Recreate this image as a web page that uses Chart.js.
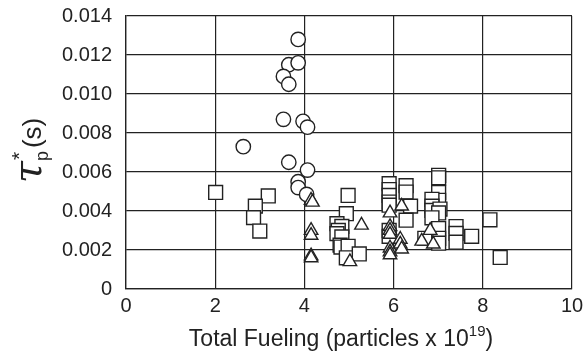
<!DOCTYPE html>
<html>
<head>
<meta charset="utf-8">
<script src="https://cdn.jsdelivr.net/npm/chart.js@4.4.0/dist/chart.umd.min.js"></script>
<style>
  body { margin: 0; background: #fff; }
  #wrap { width: 584px; height: 358px; position: relative; }
</style>
</head>
<body>
<div id="wrap"><canvas id="grafico"></canvas></div>
<script>
// total fueling (1e19 particles) vs tau_p* (s)
var circulos = [
    [3.86, 0.0128], [3.65, 0.0115], [3.86, 0.0116], [3.53, 0.0109], [3.65, 0.0105],
    [3.53, 0.0087], [3.97, 0.0086], [4.07, 0.0083], [2.63, 0.0073], [3.65, 0.0065],
    [4.07, 0.0061], [3.86, 0.0055], [3.86, 0.0052], [4.05, 0.00485]
];
var quadrados = [
    [2.01, 0.00495], [3.19, 0.00477], [2.90, 0.00425], [2.86, 0.00366], [3.00, 0.00297],
    [4.98, 0.0048], [4.94, 0.00386], [4.73, 0.00335], [4.84, 0.00321], [4.76, 0.0030],
    [4.73, 0.00284], [4.84, 0.00267], [4.80, 0.00225], [4.82, 0.00215], [4.98, 0.00219],
    [4.94, 0.0016], [5.23, 0.0018],
    [5.90, 0.0054], [5.90, 0.0051], [5.90, 0.0048], [5.90, 0.00446], [5.90, 0.0043],
    [5.90, 0.0030], [5.90, 0.0027],
    [6.28, 0.0053], [6.28, 0.00497], [6.38, 0.00425], [6.28, 0.00353],
    [7.01, 0.00583], [7.01, 0.0057], [7.01, 0.00495], [7.01, 0.00455], [6.86, 0.0046],
    [6.86, 0.00425], [6.86, 0.00403], [7.04, 0.0041], [7.01, 0.0039], [6.86, 0.00365],
    [7.01, 0.0031], [7.01, 0.0026], [7.01, 0.00235], [6.70, 0.0026],
    [7.40, 0.0032], [7.40, 0.00285], [7.40, 0.0024], [7.75, 0.0027], [8.16, 0.00355],
    [8.39, 0.00162]
];
var triangulos = [
    [4.15, 0.00455], [4.18, 0.00445], [4.15, 0.0030], [4.15, 0.00275], [4.15, 0.0017],
    [4.15, 0.0016], [5.02, 0.0014], [5.28, 0.00327], [5.92, 0.0039], [5.92, 0.0032],
    [5.92, 0.0030], [5.92, 0.0028], [5.92, 0.0021], [5.92, 0.0019], [5.92, 0.00175],
    [6.18, 0.00425], [6.15, 0.00255], [6.15, 0.0023], [6.18, 0.00205], [6.63, 0.00245],
    [6.82, 0.0030], [6.89, 0.0023]
];
var xTicks = [0, 2, 4, 6, 8, 10];
var yTicks = [0, 0.002, 0.004, 0.006, 0.008, 0.010, 0.012, 0.014];

var tinta = '#222';
var fonte = '"Liberation Sans", Arial, sans-serif';

function pontos(lista) {
    return lista.map(p => ({ x: p[0], y: p[1] }));
}

// axis titles with sub/superscripts drawn by hand
var titulos = {
    id: 'titulos',
    afterDraw: function (chart) {
        var ctx = chart.ctx;
        var area = chart.chartArea;
        ctx.save();
        ctx.fillStyle = tinta;
        ctx.textBaseline = 'alphabetic';

        // x title
        var base = '23px ' + fonte;
        var sup = '15px ' + fonte;
        var t1 = 'Total Fueling (particles x 10', t2 = '19', t3 = ')';
        ctx.font = base; var w1 = ctx.measureText(t1).width, w3 = ctx.measureText(t3).width;
        ctx.font = sup; var w2 = ctx.measureText(t2).width;
        var x0 = (area.left + area.right) / 2 - (w1 + w2 + w3) / 2 - 8;
        var yb = 346;
        ctx.textAlign = 'left';
        ctx.font = base; ctx.fillText(t1, x0, yb);
        ctx.font = sup; ctx.fillText(t2, x0 + w1, yb - 10);
        ctx.font = base; ctx.fillText(t3, x0 + w1 + w2, yb);

        // y title, rotated
        ctx.translate(41, 152);
        ctx.rotate(-Math.PI / 2);
        var tau = 'italic 40px "DejaVu Serif", serif';
        var pieces = [
            { s: '\u03C4', f: tau, dy: 0 },
            { s: 'p', f: '18px ' + fonte, dy: 7 },
            { s: '(s)', f: '26px ' + fonte, dy: 0 }
        ];
        var total = 0;
        pieces.forEach(p => { ctx.font = p.f; p.w = ctx.measureText(p.s).width; total += p.w; });
        var cx = -total / 2;
        pieces.forEach((p, i) => {
            ctx.font = p.f;
            ctx.fillText(p.s, cx, p.dy);
            if (i === 1) {
                ctx.font = '21px ' + fonte;
                ctx.fillText('*', cx + 1, -15);
            }
            cx += p.w + (i === 1 ? 3 : 0);
        });
        ctx.restore();
    }
};

var estilo = {
    backgroundColor: '#fff',
    borderColor: tinta,
    borderWidth: 1.4,
    hoverRadius: 7
};

var ctx = document.getElementById('grafico').getContext('2d');
var myChart = new Chart(ctx, {
    type: 'scatter',
    data: {
        datasets: [
            Object.assign({ label: 'triangles', data: pontos(triangulos), pointStyle: 'triangle', pointRadius: 7.8 }, estilo),
            Object.assign({ label: 'circles', data: pontos(circulos), pointStyle: 'circle', pointRadius: 7.2 }, estilo),
            Object.assign({ label: 'squares', data: pontos(quadrados), pointStyle: 'rect', pointRadius: 9.8 }, estilo)
        ]
    },
    options: {
        responsive: true,
        maintainAspectRatio: false,
        animation: false,
        layout: { padding: { left: 0, top: 16, right: 12, bottom: 0 } },
        scales: {
            x: {
                type: 'linear',
                min: 0,
                max: 10,
                afterBuildTicks: function (scale) {
                    scale.ticks = xTicks.map(v => ({ value: v }));
                },
                afterFit: function (scale) {
                    scale.height = 69;
                    scale.paddingLeft = 0;
                    scale.paddingRight = 0;
                },
                ticks: {
                    font: { family: fonte, size: 20 },
                    color: tinta,
                    padding: 5,
                    maxRotation: 0
                },
                grid: { color: tinta, lineWidth: 1.2, drawTicks: false },
                border: { color: tinta, width: 1.3 }
            },
            y: {
                type: 'linear',
                min: 0,
                max: 0.014,
                afterBuildTicks: function (scale) {
                    scale.ticks = yTicks.map(v => ({ value: v }));
                },
                afterFit: function (scale) {
                    scale.width = 126;
                    scale.paddingTop = 0;
                    scale.paddingBottom = 0;
                },
                ticks: {
                    font: { family: fonte, size: 20 },
                    color: tinta,
                    padding: 14,
                    callback: function (value) {
                        return value === 0 ? '0' : value.toFixed(3);
                    }
                },
                grid: { color: tinta, lineWidth: 1.2, drawTicks: false },
                border: { color: tinta, width: 1.3 }
            }
        },
        plugins: {
            legend: { display: false },
            tooltip: { enabled: false }
        }
    },
    plugins: [titulos]
});
</script>
</body>
</html>
